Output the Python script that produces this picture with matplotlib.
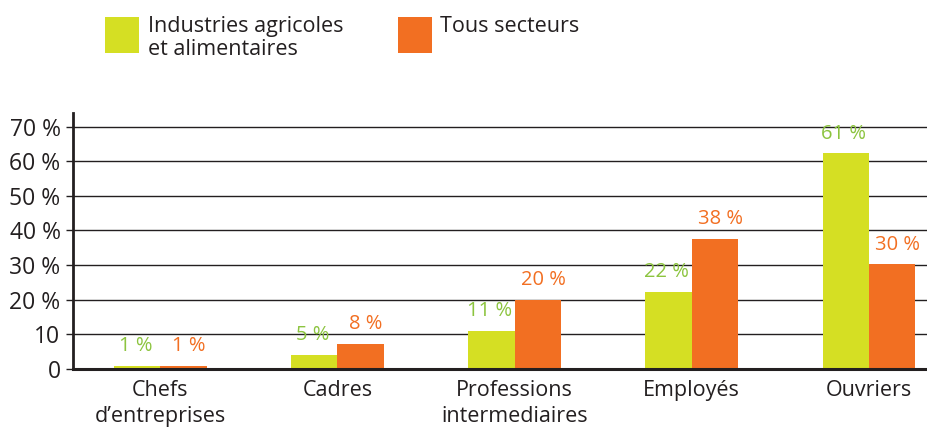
import matplotlib
matplotlib.use("Agg")
import matplotlib.pyplot as plt
from matplotlib.patches import Rectangle
import numpy as np

plt.rcParams['font.family'] = ['Open Sans', 'DejaVu Sans']

categories = ["Chefs\nd\u2019entreprises", "Cadres", "Professions\nintermediaires", "Employ\u00e9s", "Ouvriers"]
series_names = ["Industries agricoles\net alimentaires", "Tous secteurs"]
iaa_heights = [0.8, 4.0, 10.9, 22.2, 62.3]
tous_heights = [0.9, 7.2, 20.0, 37.5, 30.2]
iaa_labels = [1, 5, 11, 22, 61]
tous_labels = [1, 8, 20, 38, 30]
yticks = [0, 10, 20, 30, 40, 50, 60, 70]
ytick_labels = ["0", "10", "20 %", "30 %", "40 %", "50 %", "60 %", "70 %"]

bar_colors = ["#D5DF23", "#F26F22"]
label_colors = ["#8CC43F", "#F26F22"]
dark = "#231F20"

fig = plt.figure(figsize=(9.28, 4.32), dpi=100)
ax = fig.add_axes([0.0787, 0.1465, 0.9213, 0.592])

x = np.arange(len(categories))
w = 0.26
b1 = ax.bar(x - w / 2, iaa_heights, w, color=bar_colors[0], zorder=3)
b2 = ax.bar(x + w / 2, tous_heights, w, color=bar_colors[1], zorder=3)

for bars, labs, col, dx in [(b1, iaa_labels, label_colors[0], -1.5), (b2, tous_labels, label_colors[1], 4)]:
    for rect, lab in zip(bars, labs):
        ax.annotate(f"{lab} %", (rect.get_x() + rect.get_width() / 2, rect.get_height()),
                    xytext=(dx, 7), textcoords="offset points", ha="center", va="bottom",
                    fontsize=14.5, color=col, zorder=4)

ax.set_xlim(-0.494, 4.336)
ax.set_ylim(0, 74)
ax.set_yticks(yticks)
ax.set_yticklabels(ytick_labels, fontsize=16.5, color=dark)
ax.set_xticks(x)
ax.set_xticklabels(categories, fontsize=15.5, color=dark, linespacing=1.3)
ax.tick_params(axis="x", length=0, pad=8)
ax.tick_params(axis="y", length=5, width=1, color=dark, pad=4)

ax.set_axisbelow(True)
ax.yaxis.grid(True, color=dark, linewidth=1.0)
for s in ["top", "right"]:
    ax.spines[s].set_visible(False)
ax.spines["left"].set_linewidth(2)
ax.spines["left"].set_color(dark)
ax.spines["bottom"].set_linewidth(2.2)
ax.spines["bottom"].set_color(dark)
ax.spines["bottom"].set_zorder(5)

# legend
H = 432.0
Wf = 928.0
leg_items = [(105, 148, series_names[0], bar_colors[0]), (398, 440, series_names[1], bar_colors[1])]
for sx, tx, name, col in leg_items:
    fig.add_artist(Rectangle((sx / Wf, 1 - 53 / H), 34 / Wf, 36 / H, transform=fig.transFigure,
                             color=col, lw=0))
    fig.text(tx / Wf, 1 - 16 / H, name, ha="left", va="top", fontsize=15.5, color=dark,
             linespacing=1.15)

fig.savefig("out.png", dpi=100)
